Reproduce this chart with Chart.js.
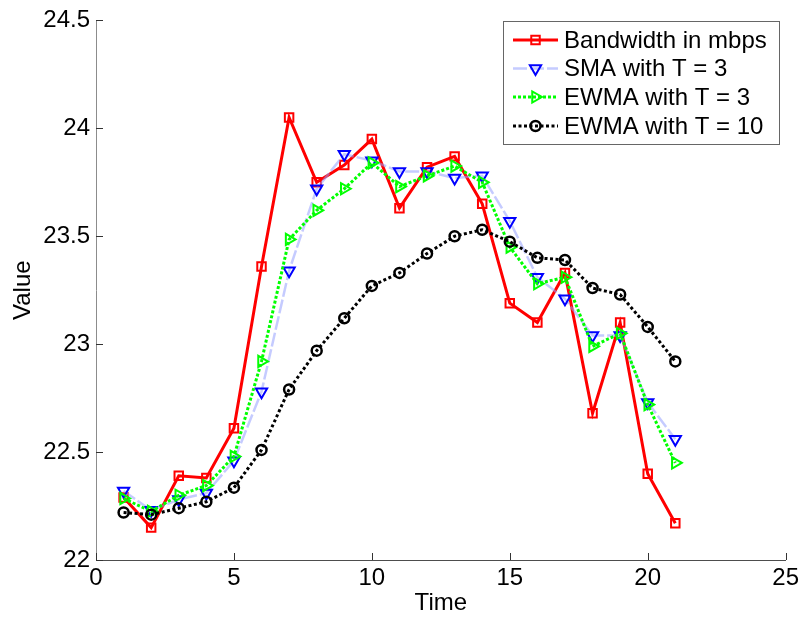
<!DOCTYPE html>
<html>
<head>
<meta charset="utf-8">
<script src="https://cdn.jsdelivr.net/npm/chart.js@4/dist/chart.umd.min.js"></script>
<style>
  html, body { margin: 0; padding: 0; background: #fff; }
  #wrap { width: 803px; height: 618px; }
</style>
</head>
<body>
<div id="wrap"><canvas id="c" width="803" height="618"></canvas></div>
<script>
const time = [1,2,3,4,5,6,7,8,9,10,11,12,13,14,15,16,17,18,19,20,21];
const bandwidth = [22.29,22.15,22.39,22.38,22.61,23.36,24.05,23.75,23.83,23.95,23.63,23.82,23.87,23.65,23.19,23.10,23.33,22.68,23.10,22.40,22.17];
const sma3 = [22.32,22.23,22.28,22.31,22.46,22.78,23.34,23.72,23.88,23.85,23.80,23.80,23.77,23.78,23.57,23.31,23.21,23.04,23.04,22.73,22.56];
const ewma3 = [22.285,22.225,22.30,22.345,22.48,22.92,23.485,23.62,23.72,23.84,23.73,23.78,23.825,23.75,23.45,23.28,23.31,22.99,23.05,22.72,22.45];
const ewma10 = [22.22,22.21,22.24,22.27,22.335,22.51,22.79,22.97,23.12,23.27,23.33,23.42,23.50,23.53,23.475,23.40,23.39,23.26,23.23,23.08,22.92];
const seriesNames = ['Bandwidth in mbps','SMA with T = 3','EWMA with T = 3','EWMA with T = 10'];
const xTicks = [0,5,10,15,20,25];
const yTicks = [22,22.5,23,23.5,24,24.5];

const FONT = 'Liberation Sans, Arial, Helvetica, sans-serif';
const pts = (ys) => time.map((t,i) => ({x: t, y: ys[i]}));

const datasets = [
  { label: seriesNames[0], data: pts(bandwidth), borderColor: '#ff0000', borderWidth: 3,
    pointStyle: 'rect', pointRadius: 6, pointBorderColor: '#ff0000', pointBorderWidth: 2,
    pointBackgroundColor: 'rgba(255,255,255,0)', pointRotation: 0, order: 4, borderDash: [] },
  { label: seriesNames[1], data: pts(sma3), borderColor: 'rgba(150,160,255,0.55)', borderWidth: 2.5,
    pointStyle: 'triangle', pointRadius: 6.5, pointBorderColor: '#0000ff', pointBorderWidth: 2,
    pointBackgroundColor: 'rgba(255,255,255,0)', pointRotation: 180, order: 3, borderDash: [14,3] },
  { label: seriesNames[2], data: pts(ewma3), borderColor: '#00ff00', borderWidth: 3,
    pointStyle: 'triangle', pointRadius: 6.5, pointBorderColor: '#00ff00', pointBorderWidth: 2,
    pointBackgroundColor: 'rgba(255,255,255,0)', pointRotation: 90, order: 2, borderDash: [3,2] },
  { label: seriesNames[3], data: pts(ewma10), borderColor: '#000000', borderWidth: 3,
    pointStyle: 'circle', pointRadius: 5, pointBorderColor: '#000000', pointBorderWidth: 2.5,
    pointBackgroundColor: 'rgba(255,255,255,0)', pointRotation: 0, order: 1, borderDash: [3,2.5] }
];
datasets.forEach(d => { d.tension = 0; d.fill = false; d.pointHoverRadius = d.pointRadius; });

function drawMarker(ctx, style, x, y, r, rot) {
  ctx.save();
  ctx.translate(x, y);
  ctx.rotate(rot * Math.PI / 180);
  ctx.beginPath();
  if (style === 'rect') {
    const s = r * Math.SQRT1_2;
    ctx.rect(-s, -s, 2*s, 2*s);
  } else if (style === 'triangle') {
    for (let k = 0; k < 3; k++) {
      const a = -Math.PI/2 + k * 2*Math.PI/3;
      const px = r * Math.cos(a), py = r * Math.sin(a);
      if (k === 0) ctx.moveTo(px, py); else ctx.lineTo(px, py);
    }
    ctx.closePath();
  } else {
    ctx.arc(0, 0, r, 0, 2*Math.PI);
  }
  ctx.stroke();
  ctx.restore();
}

const decor = {
  id: 'decor',
  afterDraw(chart) {
    const ctx = chart.ctx;
    const xs = chart.scales.x, ys = chart.scales.y;
    const area = chart.chartArea;
    ctx.save();
    // inward tick marks
    ctx.strokeStyle = '#333';
    ctx.lineWidth = 1;
    ctx.beginPath();
    xTicks.forEach(v => {
      const px = Math.round(xs.getPixelForValue(v)) + 0.5;
      ctx.moveTo(px, area.bottom); ctx.lineTo(px, area.bottom - 7);
    });
    yTicks.forEach(v => {
      const py = Math.round(ys.getPixelForValue(v)) + 0.5;
      ctx.moveTo(area.left, py); ctx.lineTo(area.left + 7, py);
    });
    ctx.stroke();

    // legend
    const bx = 503.5, by = 21.5, bw = 276, bh = 123;
    ctx.fillStyle = '#fff';
    ctx.fillRect(bx, by, bw, bh);
    ctx.strokeStyle = '#666';
    ctx.lineWidth = 1;
    ctx.strokeRect(bx, by, bw, bh);
    const rowY = [40, 68.5, 97, 126];
    ctx.font = '24px ' + FONT;
    ctx.textBaseline = 'middle';
    ctx.textAlign = 'left';
    chart.data.datasets.forEach((d, i) => {
      const y = rowY[i];
      ctx.save();
      ctx.strokeStyle = d.borderColor;
      ctx.lineWidth = d.borderWidth;
      ctx.setLineDash(d.borderDash || []);
      ctx.beginPath();
      ctx.moveTo(513, y); ctx.lineTo(558, y);
      ctx.stroke();
      ctx.setLineDash([]);
      ctx.strokeStyle = d.pointBorderColor;
      ctx.lineWidth = d.pointBorderWidth;
      drawMarker(ctx, d.pointStyle, 535.5, y, d.pointRadius, d.pointRotation);
      ctx.restore();
      ctx.fillStyle = '#000';
      ctx.fillText(d.label, 564, y + 1);
    });
    ctx.restore();
  }
};

new Chart(document.getElementById('c'), {
  type: 'line',
  data: { datasets },
  options: {
    responsive: false,
    animation: false,
    devicePixelRatio: 1,
    layout: { padding: { top: 15, right: 16, left: 0, bottom: 0 } },
    plugins: { legend: { display: false }, tooltip: { enabled: false } },
    scales: {
      x: {
        type: 'linear', position: 'bottom', min: 0, max: 25,
        afterBuildTicks: s => { s.ticks = xTicks.map(v => ({ value: v })); },
        afterFit: s => { s.height = 58; },
        ticks: { color: '#000', font: { family: FONT, size: 24 }, padding: 4, maxRotation: 0, autoSkip: false,
                 callback: v => String(v) },
        grid: { display: true, drawOnChartArea: false, drawTicks: false, tickLength: 0 },
        border: { display: true, color: '#4d4d4d', width: 1 },
        title: { display: true, text: 'Time', color: '#000', font: { family: FONT, size: 24 }, padding: { top: 0, bottom: 0 } }
      },
      y: {
        type: 'linear', position: 'left', min: 22, max: 24.5,
        afterBuildTicks: s => { s.ticks = yTicks.map(v => ({ value: v })); },
        afterFit: s => { s.width = 96; },
        ticks: { color: '#000', font: { family: FONT, size: 24 }, padding: 6, autoSkip: false,
                 callback: v => String(v) },
        grid: { display: true, drawOnChartArea: false, drawTicks: false, tickLength: 0 },
        border: { display: true, color: '#8c8c8c', width: 1 },
        title: { display: true, text: 'Value', color: '#000', font: { family: FONT, size: 24 }, padding: { top: 9, bottom: 0 } }
      }
    }
  },
  plugins: [decor]
});
</script>
</body>
</html>
